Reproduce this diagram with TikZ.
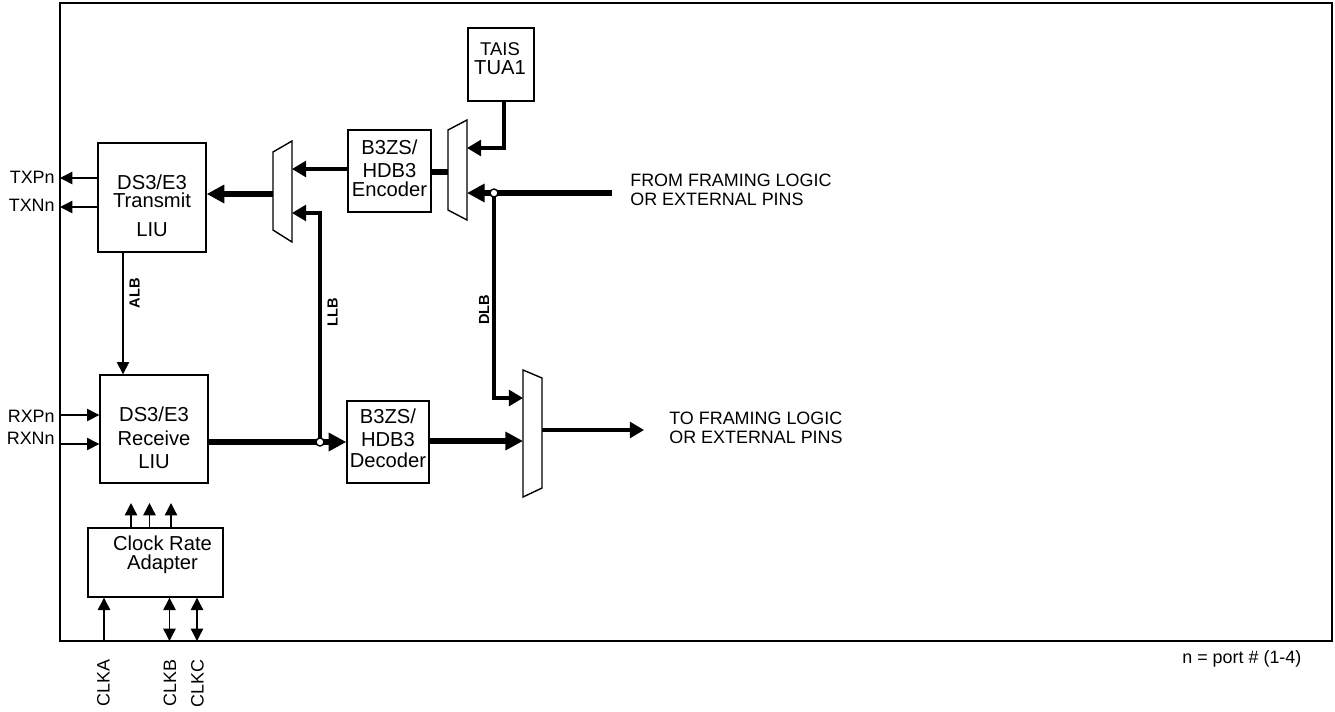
\documentclass[tikz,border=0pt]{standalone}
\usepackage{fontspec}
\setmainfont{Liberation Sans}
\usetikzlibrary{arrows.meta}
\begin{document}
\begin{tikzpicture}[x=0.02cm,y=-0.02cm,
  box/.style={draw, line width=0.8pt, inner sep=0pt},
  boxtext/.style={font=\fontsize{11.5}{12.5}\selectfont, align=center, inner sep=0pt},
  lbl/.style={font=\fontsize{10.2}{10.8}\selectfont, inner sep=0pt, align=left},
  blbl/.style={font=\fontsize{8.3}{9}\selectfont\bfseries, inner sep=0pt, rotate=90},
  thinarr/.style={line width=0.8pt, -{Triangle[length=7pt,width=7pt]}},
  dblarr/.style={line width=0.8pt, {Triangle[length=7pt,width=7pt]}-{Triangle[length=7pt,width=7pt]}},
  medarr/.style={line width=1.8pt, -{Triangle[length=8pt,width=9pt]}},
  thickarr/.style={line width=3.3pt, -{Triangle[length=10pt,width=10pt]}},
  thickline/.style={line width=3.3pt},
  mux/.style={draw, line width=0.8pt, fill=white},
  junc/.style={circle, draw, fill=white, inner sep=0pt, minimum size=0.16cm, line width=0.8pt},
]
\useasboundingbox (0,0) rectangle (1335,711);
% frame
\draw[line width=1pt] (60,3) rectangle (1332,641);

% boxes
\node[box, minimum width=2.16cm, minimum height=2.18cm] (tx) at (152,197.5) {};
\node[boxtext] (txt) at (152,206) {DS3/E3\\[-2.3pt]Transmit\\[4pt]LIU};
\node[box, minimum width=2.16cm, minimum height=2.16cm] (rx) at (154,429) {};
\node[boxtext] (rxt) at (154,437.5) {DS3/E3\\[1.5pt]Receive\\[0.5pt]LIU};
\node[box, minimum width=1.66cm, minimum height=1.64cm] (enc) at (389.5,171) {};
\node[boxtext] (enct) at (389.5,168.5) {B3ZS/\\[0.6pt]HDB3\\[-1.7pt]Encoder};
\node[box, minimum width=1.64cm, minimum height=1.64cm] (dec) at (388,442) {};
\node[boxtext] (dect) at (388,438.5) {B3ZS/\\[0.6pt]HDB3\\[-0.6pt]Decoder};
\node[box, minimum width=1.32cm, minimum height=1.46cm] (tais) at (501,64.5) {};
\node[boxtext] (taist) at (500,58.5) {{\fontsize{10.5}{11}\selectfont TAIS}\\[-2pt]TUA1};
\node[box, minimum width=2.7cm, minimum height=1.38cm] (cra) at (155.5,562.5) {};
\node[boxtext] (crat) at (162.5,555) {Clock Rate\\[-1.7pt]Adapter};

% coordinates
\coordinate (txp) at (60,178);
\coordinate (txn) at (60,207);
\coordinate (rxp) at (60,415);
\coordinate (rxn) at (60,444);
\coordinate (m1out) at (273,194);
\coordinate (m1a) at (292,169);
\coordinate (m1b) at (292,213);
\coordinate (m2in) at (448,172);
\coordinate (m2a) at (467,148);
\coordinate (m2b) at (467,193);
\coordinate (tap) at (504,101);
\coordinate (from) at (612,193);
\coordinate (j1) at (320,442);
\coordinate (j2) at (494,193);
\coordinate (m3a) at (523,398);
\coordinate (m3b) at (523,441);
\coordinate (m3out) at (542,430);
\coordinate (to) at (644,430);
\coordinate (alb) at (123,0);
\coordinate (c1) at (131,503);
\coordinate (c2) at (149.5,503);
\coordinate (c3) at (171,503);
\coordinate (clka) at (104,641);
\coordinate (clkb) at (169.5,641);
\coordinate (clkc) at (197,641);

% connectors
\draw[thinarr] (tx.west |- txp) -- (txp);
\draw[thinarr] (tx.west |- txn) -- (txn);
\draw[thinarr] (rxp) -- (rx.west |- rxp);
\draw[thinarr] (rxn) -- (rx.west |- rxn);
\draw[thinarr] (tx.south -| alb) -- (rx.north -| alb);
\draw[thickarr] (m1out) -- (tx.east |- m1out);
\draw[medarr] (enc.west |- m1a) -- (m1a);
\draw[medarr] (j1) -- (j1 |- m1b) -- (m1b);
\draw[thickline] (enc.east |- m2in) -- (m2in);
\draw[medarr] (tap) |- (m2a);
\draw[thickarr] (from) -- (m2b);
\draw[medarr] (j2) |- (m3a);
\draw[thickarr] (rx.east |- j1) -- (dec.west |- j1);
\draw[thickarr] (dec.east |- m3b) -- (m3b);
\draw[medarr] (m3out) -- (to);
\foreach \c in {c1,c2,c3} \draw[thinarr] (cra.north -| \c) -- (\c);
\draw[thinarr] (clka) -- (cra.south -| clka);
\draw[dblarr] (clkb) -- (cra.south -| clkb);
\draw[dblarr] (clkc) -- (cra.south -| clkc);

% muxes
\draw[mux] (273,152) -- (292,141) -- (292,242) -- (273,230) -- cycle;
\draw[mux] (448,130) -- (467,120) -- (467,220) -- (448,210) -- cycle;
\draw[mux] (523,370) -- (542,378) -- (542,488) -- (523,497) -- cycle;

% junctions
\node[junc] (j1c) at (j1) {};
\node[junc] (j2c) at (j2) {};

% labels
\node[lbl, anchor=east] (ltxp) at (55,177) {TXPn};
\node[lbl, anchor=east] (ltxn) at (55,205.5) {TXNn};
\node[lbl, anchor=east] (lrxp) at (55,416.5) {RXPn};
\node[lbl, anchor=east] (lrxn) at (55,438.5) {RXNn};
\node[lbl, anchor=west] (lfrom) at (630,189.5) {FROM FRAMING LOGIC\\OR EXTERNAL PINS};
\node[lbl, anchor=west] (lto) at (669,428) {TO FRAMING LOGIC\\OR EXTERNAL PINS};
\node[lbl, anchor=base west] (lport) at (1182,663.5) {n = port \# (1-4)};
\node[lbl, rotate=90, anchor=east] (lclka) at (103.5,659) {CLKA};
\node[lbl, rotate=90, anchor=east] (lclkb) at (170,659) {CLKB};
\node[lbl, rotate=90, anchor=east] (lclkc) at (197.5,659) {CLKC};
\node[blbl] (lalb) at (134.7,293.3) {ALB};
\node[blbl] (lllb) at (332.7,312.5) {LLB};
\node[blbl] (ldlb) at (484,310) {DLB};
\end{tikzpicture}
\end{document}
